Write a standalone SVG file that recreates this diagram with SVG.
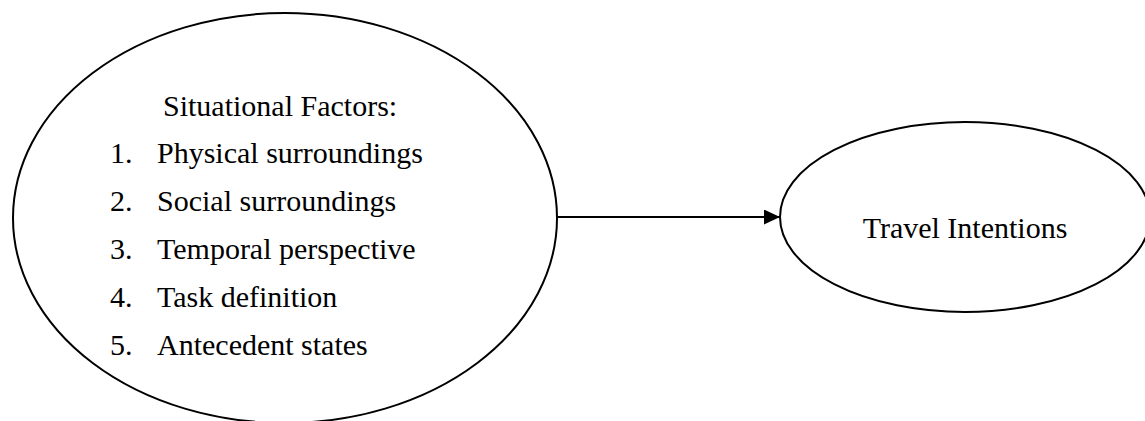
<svg xmlns="http://www.w3.org/2000/svg" width="1145" height="421" viewBox="0 0 1145 421">
  <style>
    .shape { fill: #ffffff; stroke: #000000; stroke-width: 2; }
    .label { font-family: "Liberation Serif", "Times New Roman", serif; font-size: 30px; fill: #000000; }
    .edge { stroke: #000000; stroke-width: 2; fill: none; }
  </style>
  <defs>
    <marker id="arrow" viewBox="0 0 16 15" refX="16" refY="7.5" markerWidth="16" markerHeight="15" markerUnits="userSpaceOnUse" orient="auto">
      <path d="M0,0 L16,7.5 L0,15 Z" fill="#000000"/>
    </marker>
  </defs>
  <rect width="1145" height="421" fill="#ffffff"/>
  <g id="connectors">
    <line class="edge" x1="557" y1="217" x2="780" y2="217" marker-end="url(#arrow)"/>
  </g>
  <g id="situational-factors">
    <ellipse class="shape" cx="285" cy="218" rx="272" ry="205"/>
    <text class="label" x="163" y="116">Situational Factors:</text>
    <text class="label" x="110" y="163">1.</text>
    <text class="label" x="157" y="163">Physical surroundings</text>
    <text class="label" x="110" y="211">2.</text>
    <text class="label" x="157" y="211">Social surroundings</text>
    <text class="label" x="110" y="259">3.</text>
    <text class="label" x="157" y="259">Temporal perspective</text>
    <text class="label" x="110" y="307">4.</text>
    <text class="label" x="157" y="307">Task definition</text>
    <text class="label" x="110" y="355">5.</text>
    <text class="label" x="157" y="355">Antecedent states</text>
  </g>
  <g id="travel-intentions">
    <ellipse class="shape" cx="965" cy="217" rx="185" ry="95"/>
    <text class="label" x="965" y="238" text-anchor="middle">Travel Intentions</text>
  </g>
</svg>
